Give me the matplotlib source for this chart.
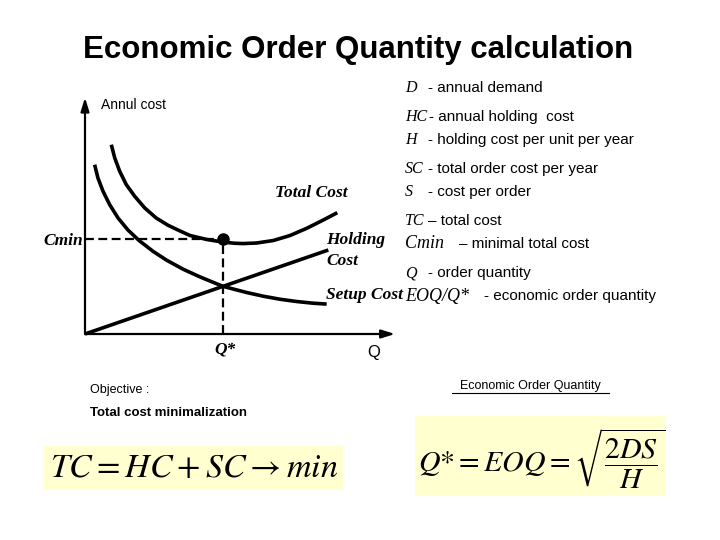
import matplotlib
matplotlib.use("Agg")
import matplotlib.pyplot as plt
from matplotlib.lines import Line2D
from matplotlib.patches import Rectangle

W, H = 720, 540

# ---- data (Q* = 100, Cmin = 100) ----
setup_q = [7.0, 9.4, 13.1, 17.9, 24.0, 31.2, 39.2, 49.6, 59.3, 71.3, 83.5, 100,
           117.4, 129.5, 141.6, 153.7, 165.8, 175.5]
setup_c = [178.8, 164.7, 150.7, 136.6, 122.5, 109.8, 98.8, 87.1, 77.9, 68.4, 60.3, 50.4,
           43.8, 39.9, 36.7, 34.3, 32.5, 31.6]
total_q = [19.1, 21.6, 25.2, 30.0, 36.1, 43.4, 51.7, 60.3, 69.0, 76.3, 88.4, 100,
           108.9, 115.0, 124.7, 136.7, 148.9, 161.0, 173.1, 183.2]
total_c = [199.9, 185.9, 171.8, 157.7, 145.4, 133.1, 122.5, 114.8, 108.8, 104.0, 99.8, 97.1,
           95.8, 95.5, 96.1, 98.7, 104.0, 111.6, 120.4, 128.1]
holding_q = [0, 176.7]
holding_c = [0, 88.7]
q_star = 100
c_min = 100

legend_symbols = ["D", "HC", "H", "SC", "S", "TC", "Cmin", "Q", "EOQ/Q*"]
legend_desc = ["- annual demand", "- annual holding  cost", "- holding cost per unit per year",
               "- total order cost per year", "- cost per order", "\u2013 total cost",
               "\u2013 minimal total cost", "- order quantity", "- economic order quantity"]

plt.rcParams['font.family'] = ['Liberation Sans', 'DejaVu Sans']
plt.rcParams['mathtext.fontset'] = 'stix'

fig = plt.figure(figsize=(7.2, 5.4), dpi=100)
fig.patch.set_facecolor('white')


def P(x, y):
    return x / W, 1 - y / H


def ftext(x, y, s, **kw):
    fx, fy = P(x, y)
    fig.text(fx, fy, s, **kw)


# ---- title ----
ftext(358, 50, "Economic Order Quantity calculation", fontsize=22.5, weight='bold',
      ha='center', va='center')

# ---- chart axes ----
x0, y0, x1, y1 = 85, 334, 395, 100
ax = fig.add_axes([x0 / W, 1 - y0 / H, (x1 - x0) / W, (y0 - y1) / H])
ax.set_xlim(0, (x1 - x0) / 1.377)
ax.set_ylim(0, (y0 - y1) / 0.947)
ax.axis('off')

ax.annotate('', xy=(0, 1.01), xytext=(0, 0), xycoords='axes fraction',
            arrowprops=dict(arrowstyle='-|>,head_length=0.8,head_width=0.25', lw=1.6, color='black',
                            shrinkA=0, shrinkB=0))
ax.annotate('', xy=(1.0, 0), xytext=(0, 0), xycoords='axes fraction',
            arrowprops=dict(arrowstyle='-|>,head_length=0.8,head_width=0.25', lw=1.6, color='black',
                            shrinkA=0, shrinkB=0))

lw = 2.6
style = dict(color='black', lw=lw, solid_capstyle='butt', solid_joinstyle='round', clip_on=False)
ax.plot(setup_q, setup_c, **style)
ax.plot(total_q, total_c, **style)
ax.plot(holding_q, holding_c, **style)
ax.plot([0, q_star], [c_min, c_min], color='black', lw=1.6, dashes=(4, 2), clip_on=False)
ax.plot([q_star, q_star], [0, c_min], color='black', lw=1.6, dashes=(4, 2), clip_on=False)
ax.plot([q_star], [c_min], 'o', color='black', ms=8, clip_on=False)

# chart labels
serif_bi = dict(family='Liberation Serif', style='italic', weight='bold', fontsize=12.5)
ftext(83, 241, "Cmin", ha='right', va='center', **serif_bi)
ftext(275, 193, "Total Cost", ha='left', va='center', **serif_bi)
ftext(326, 240, "Holding", ha='left', va='center', **serif_bi)
ftext(326, 261, "Cost", ha='left', va='center', **serif_bi)
ftext(326, 295, "Setup Cost", ha='left', va='center', **serif_bi)
ftext(225, 350, "Q*", ha='center', va='center', **serif_bi)
ftext(374, 352, "Q", ha='center', va='center', fontsize=12)
ftext(101, 105, "Annul cost", ha='left', va='center', fontsize=10)

# ---- legend list ----
legend_y = [88, 117, 140, 169, 192, 221, 244, 273, 296]
desc_x = [428, 429, 428, 428, 428, 428, 459, 428, 484]
sym_size = [11.5, 11.5, 11.5, 11.5, 11.5, 11.5, 13, 11.5, 13]
for sym, desc, yy, dx, fs in zip(legend_symbols, legend_desc, legend_y, desc_x, sym_size):
    ftext(405, yy, sym, ha='left', va='center', family='Liberation Serif', style='italic', fontsize=fs)
    ftext(dx, yy, desc, ha='left', va='center', fontsize=11)

# ---- objective ----
ftext(90, 390, "Objective :", ha='left', va='center', fontsize=9)
ftext(90, 413, "Total cost minimalization", ha='left', va='center', fontsize=9.5, weight='bold')

# ---- formula boxes ----
box_color = '#ffffd0'
fig.patches.append(Rectangle(P(43, 490), 300 / W, 44 / H, transform=fig.transFigure,
                             facecolor=box_color, edgecolor='none', zorder=0))
ftext(194, 468, r'$TC = HC + SC \rightarrow min$', ha='center', va='center', fontsize=24.5)

fig.patches.append(Rectangle(P(415, 496), 251 / W, 80 / H, transform=fig.transFigure,
                             facecolor=box_color, edgecolor='none', zorder=0))
ftext(542, 459, r'$Q{*} = EOQ = \sqrt{\dfrac{2DS}{H}}$', ha='center', va='center', fontsize=21.5)

# ---- EOQ underlined heading ----
ftext(530, 386, "Economic Order Quantity", ha='center', va='center', fontsize=9)
fig.lines.append(Line2D([452 / W, 609 / W], [1 - 393 / H, 1 - 393 / H], transform=fig.transFigure,
                        color='black', lw=0.8))

fig.savefig('out.png', dpi=100, facecolor='white')
